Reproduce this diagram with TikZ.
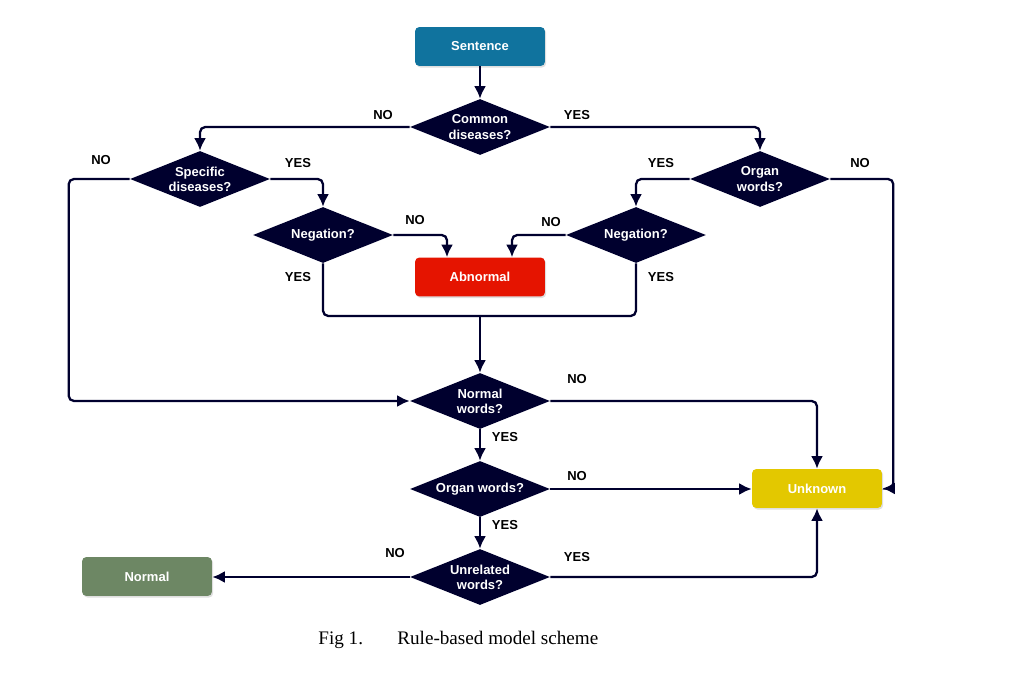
\documentclass[tikz,border=0pt]{standalone}
\usepackage{fontspec}
\setmainfont{Liberation Sans}
\newfontfamily\capfont{Liberation Serif}
\usetikzlibrary{shapes.geometric,arrows.meta,shadows}
\definecolor{navy}{HTML}{00002E}
\definecolor{sentblue}{HTML}{10739E}
\definecolor{abnred}{HTML}{E51400}
\definecolor{unkyellow}{HTML}{E3C800}
\definecolor{normgreen}{HTML}{6D8764}
\begin{document}
\begin{tikzpicture}[x=0.02cm, y=-0.02cm, >={Latex[length=2.5mm,width=2.4mm]},
	font=\fontsize{7.4}{8.7}\selectfont\bfseries,
	box/.style={rectangle, rounded corners=2.5pt, minimum width=2.6cm, minimum height=0.78cm, text=white,
		drop shadow={opacity=0.25, shadow xshift=0.7pt, shadow yshift=-0.9pt}},
	ask/.style={diamond, aspect=2.5, inner sep=0pt, minimum width=2.8cm, minimum height=1.12cm,
		fill=navy, text=white, align=center},
	flow/.style={->, line width=1.3pt, draw=navy, rounded corners=3pt},
	link/.style={line width=1.3pt, draw=navy, rounded corners=3pt},
	tag/.style={text=black}]
	\useasboundingbox (0,0) rectangle (1025,679);
	% Hộp đầu vào và kết quả
	\node[box, fill=sentblue] (sent) at (480,46.5) {Sentence};
	\node[box, fill=abnred] (abn) at (480,277) {Abnormal};
	\node[box, fill=unkyellow] (unk) at (817,488.5) {Unknown};
	\node[box, fill=normgreen] (norm) at (147,576.5) {Normal};
	
	% Các nút quyết định
	\node[ask] (common) at (480,127) {Common\\diseases?};
	\node[ask] (spec) at (200,179) {Specific\\diseases?};
	\node[ask] (organtop) at (760,179) {Organ\\words?};
	\node[ask] (negl) at (323,235) {Negation?};
	\node[ask] (negr) at (636,235) {Negation?};
	\node[ask] (normw) at (480,401) {Normal\\words?};
	\node[ask] (organw) at (480,489) {Organ words?};
	\node[ask] (unrel) at (480,577) {Unrelated\\words?};
	
	\coordinate (merge) at (480,316);
	
	% Các mũi tên
	\draw[flow] (sent) -- (common);
	\draw[flow] (common.west) -| (spec.north);
	\draw[flow] (common.east) -| (organtop.north);
	\draw[flow] (spec.west) -- ++(-61,0) |- (normw.west);
	\draw[flow] (spec.east) -| (negl.north);
	\draw[flow] (organtop.west) -| (negr.north);
	\draw[flow] (organtop.east) -- ++(63,0) |- (unk.east);
	\draw[flow] (negl.east) -| ([xshift=-0.66cm]abn.north);
	\draw[flow] (negr.west) -| ([xshift=0.64cm]abn.north);
	\draw[link] (negl.south) |- (merge);
	\draw[link] (negr.south) |- (merge);
	\draw[flow] (merge) -- (normw.north);
	\draw[flow] (normw.east) -| (unk.north);
	\draw[flow] (normw) -- (organw);
	\draw[flow] (organw.east) -- (organw.east -| unk.west);
	\draw[flow] (organw) -- (unrel);
	\draw[flow] (unrel.west) -- (unrel.west -| norm.east);
	\draw[flow] (unrel.east) -| (unk.south);
	
	% Nhãn YES / NO
	\node[tag] (n1) at (383,115) {NO};
	\node[tag] (y1) at (577,115) {YES};
	\node[tag] (n2) at (101,160) {NO};
	\node[tag] (y2) at (298,163) {YES};
	\node[tag] (y3) at (661,163) {YES};
	\node[tag] (n3) at (860,163) {NO};
	\node[tag] (n4) at (415,220) {NO};
	\node[tag] (n5) at (551,222) {NO};
	\node[tag] (y4) at (298,277) {YES};
	\node[tag] (y5) at (661,277) {YES};
	\node[tag] (n6) at (577,379) {NO};
	\node[tag] (y6) at (505,437) {YES};
	\node[tag] (n7) at (577,476) {NO};
	\node[tag] (y7) at (505,525) {YES};
	\node[tag] (n8) at (395,553) {NO};
	\node[tag] (y8) at (577,557) {YES};
	
	% Chú thích hình
	\node[anchor=base west, inner sep=0pt, font=\capfont\fontsize{10.9}{13}\selectfont] (fig) at (318,644) {Fig 1.};
	\node[anchor=base west, inner sep=0pt, font=\capfont\fontsize{10.9}{13}\selectfont] (cap) at (397,644) {Rule-based model scheme};
\end{tikzpicture}
\end{document}
